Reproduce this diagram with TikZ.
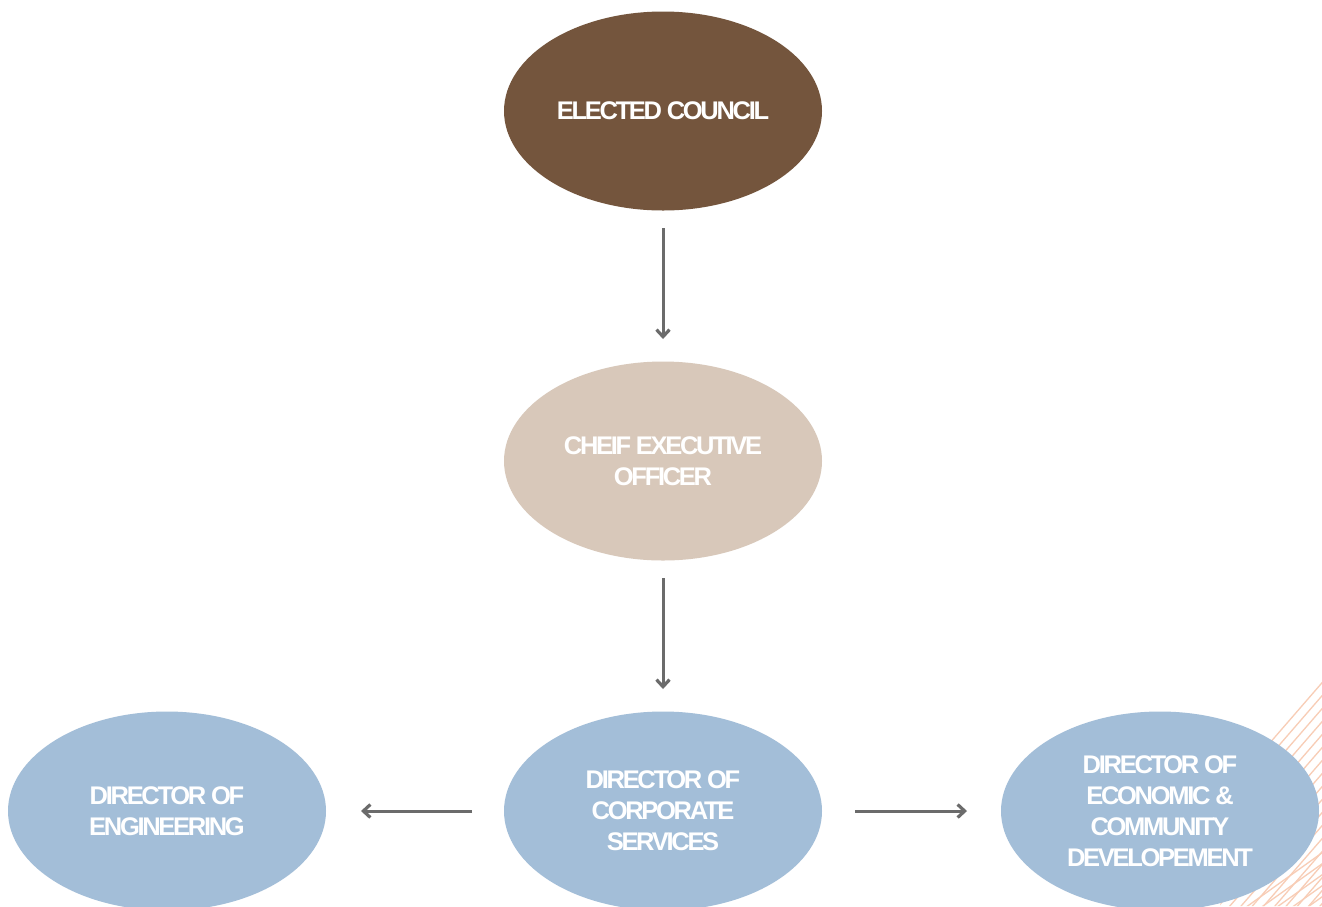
\documentclass[tikz,border=0pt]{standalone}
\usepackage{fontspec}
\setmainfont{Liberation Sans}[LetterSpace=-9]
\usetikzlibrary{arrows.meta,shapes.geometric}
\definecolor{brownc}{HTML}{74553D}
\definecolor{beigec}{HTML}{D8C8BA}
\definecolor{bluec}{HTML}{A3BED8}
\definecolor{arrowc}{HTML}{6B6B6B}
\definecolor{decoc}{HTML}{F8CDB6}
\begin{document}
\begin{tikzpicture}[x=1pt,y=-1pt,
  oval/.style={ellipse, minimum width=318pt, minimum height=199pt, inner sep=0pt,
    text=white, align=center, font=\fontsize{25.5}{31}\selectfont\bfseries},
  link/.style={draw=arrowc, line width=3pt, -{Straight Barb[length=7pt,width=13pt,line width=3.2pt]}},
  deco/.style={draw=decoc, line width=1.3pt}
]
\useasboundingbox (0,0) rectangle (1322,906);
\fill[white] (0,0) rectangle (1322,906);
% decorative lines
\begin{scope}
\clip (1322,676) -- (1250,760) -- (1220,906) -- (1322,906) -- cycle;
\foreach \k in {0,...,18}{
  \draw[deco] (1340,662+13*\k) -- ++(-170,196);
}
\foreach \k in {0,...,8}{
  \draw[deco] (1340,840+11*\k) -- ++(-140,100);
}
\end{scope}
\node[oval, fill=brownc] (council) at (663,111) {ELECTED COUNCIL};
\node[oval, fill=beigec] (ceo) at (663,461) {CHEIF EXECUTIVE\\OFFICER};
\node[oval, fill=bluec] (corp) at (663,811) {DIRECTOR OF\\CORPORATE\\SERVICES};
\node[oval, fill=bluec] (eng) at (167,811) {DIRECTOR OF\\ENGINEERING};
\node[oval, fill=bluec] (econ) at (1160,811) {DIRECTOR OF\\ECONOMIC \&\\COMMUNITY\\DEVELOPEMENT};
\coordinate (a1) at (663,228);
\coordinate (a2) at (663,339);
\coordinate (b1) at (663,578);
\coordinate (b2) at (663,689);
\coordinate (c1) at (472,811);
\coordinate (c2) at (361,811);
\coordinate (d1) at (855,811);
\coordinate (d2) at (967,811);
\draw[link] (a1) -- (a2);
\draw[link] (b1) -- (b2);
\draw[link] (c1) -- (c2);
\draw[link] (d1) -- (d2);
\end{tikzpicture}
\end{document}
